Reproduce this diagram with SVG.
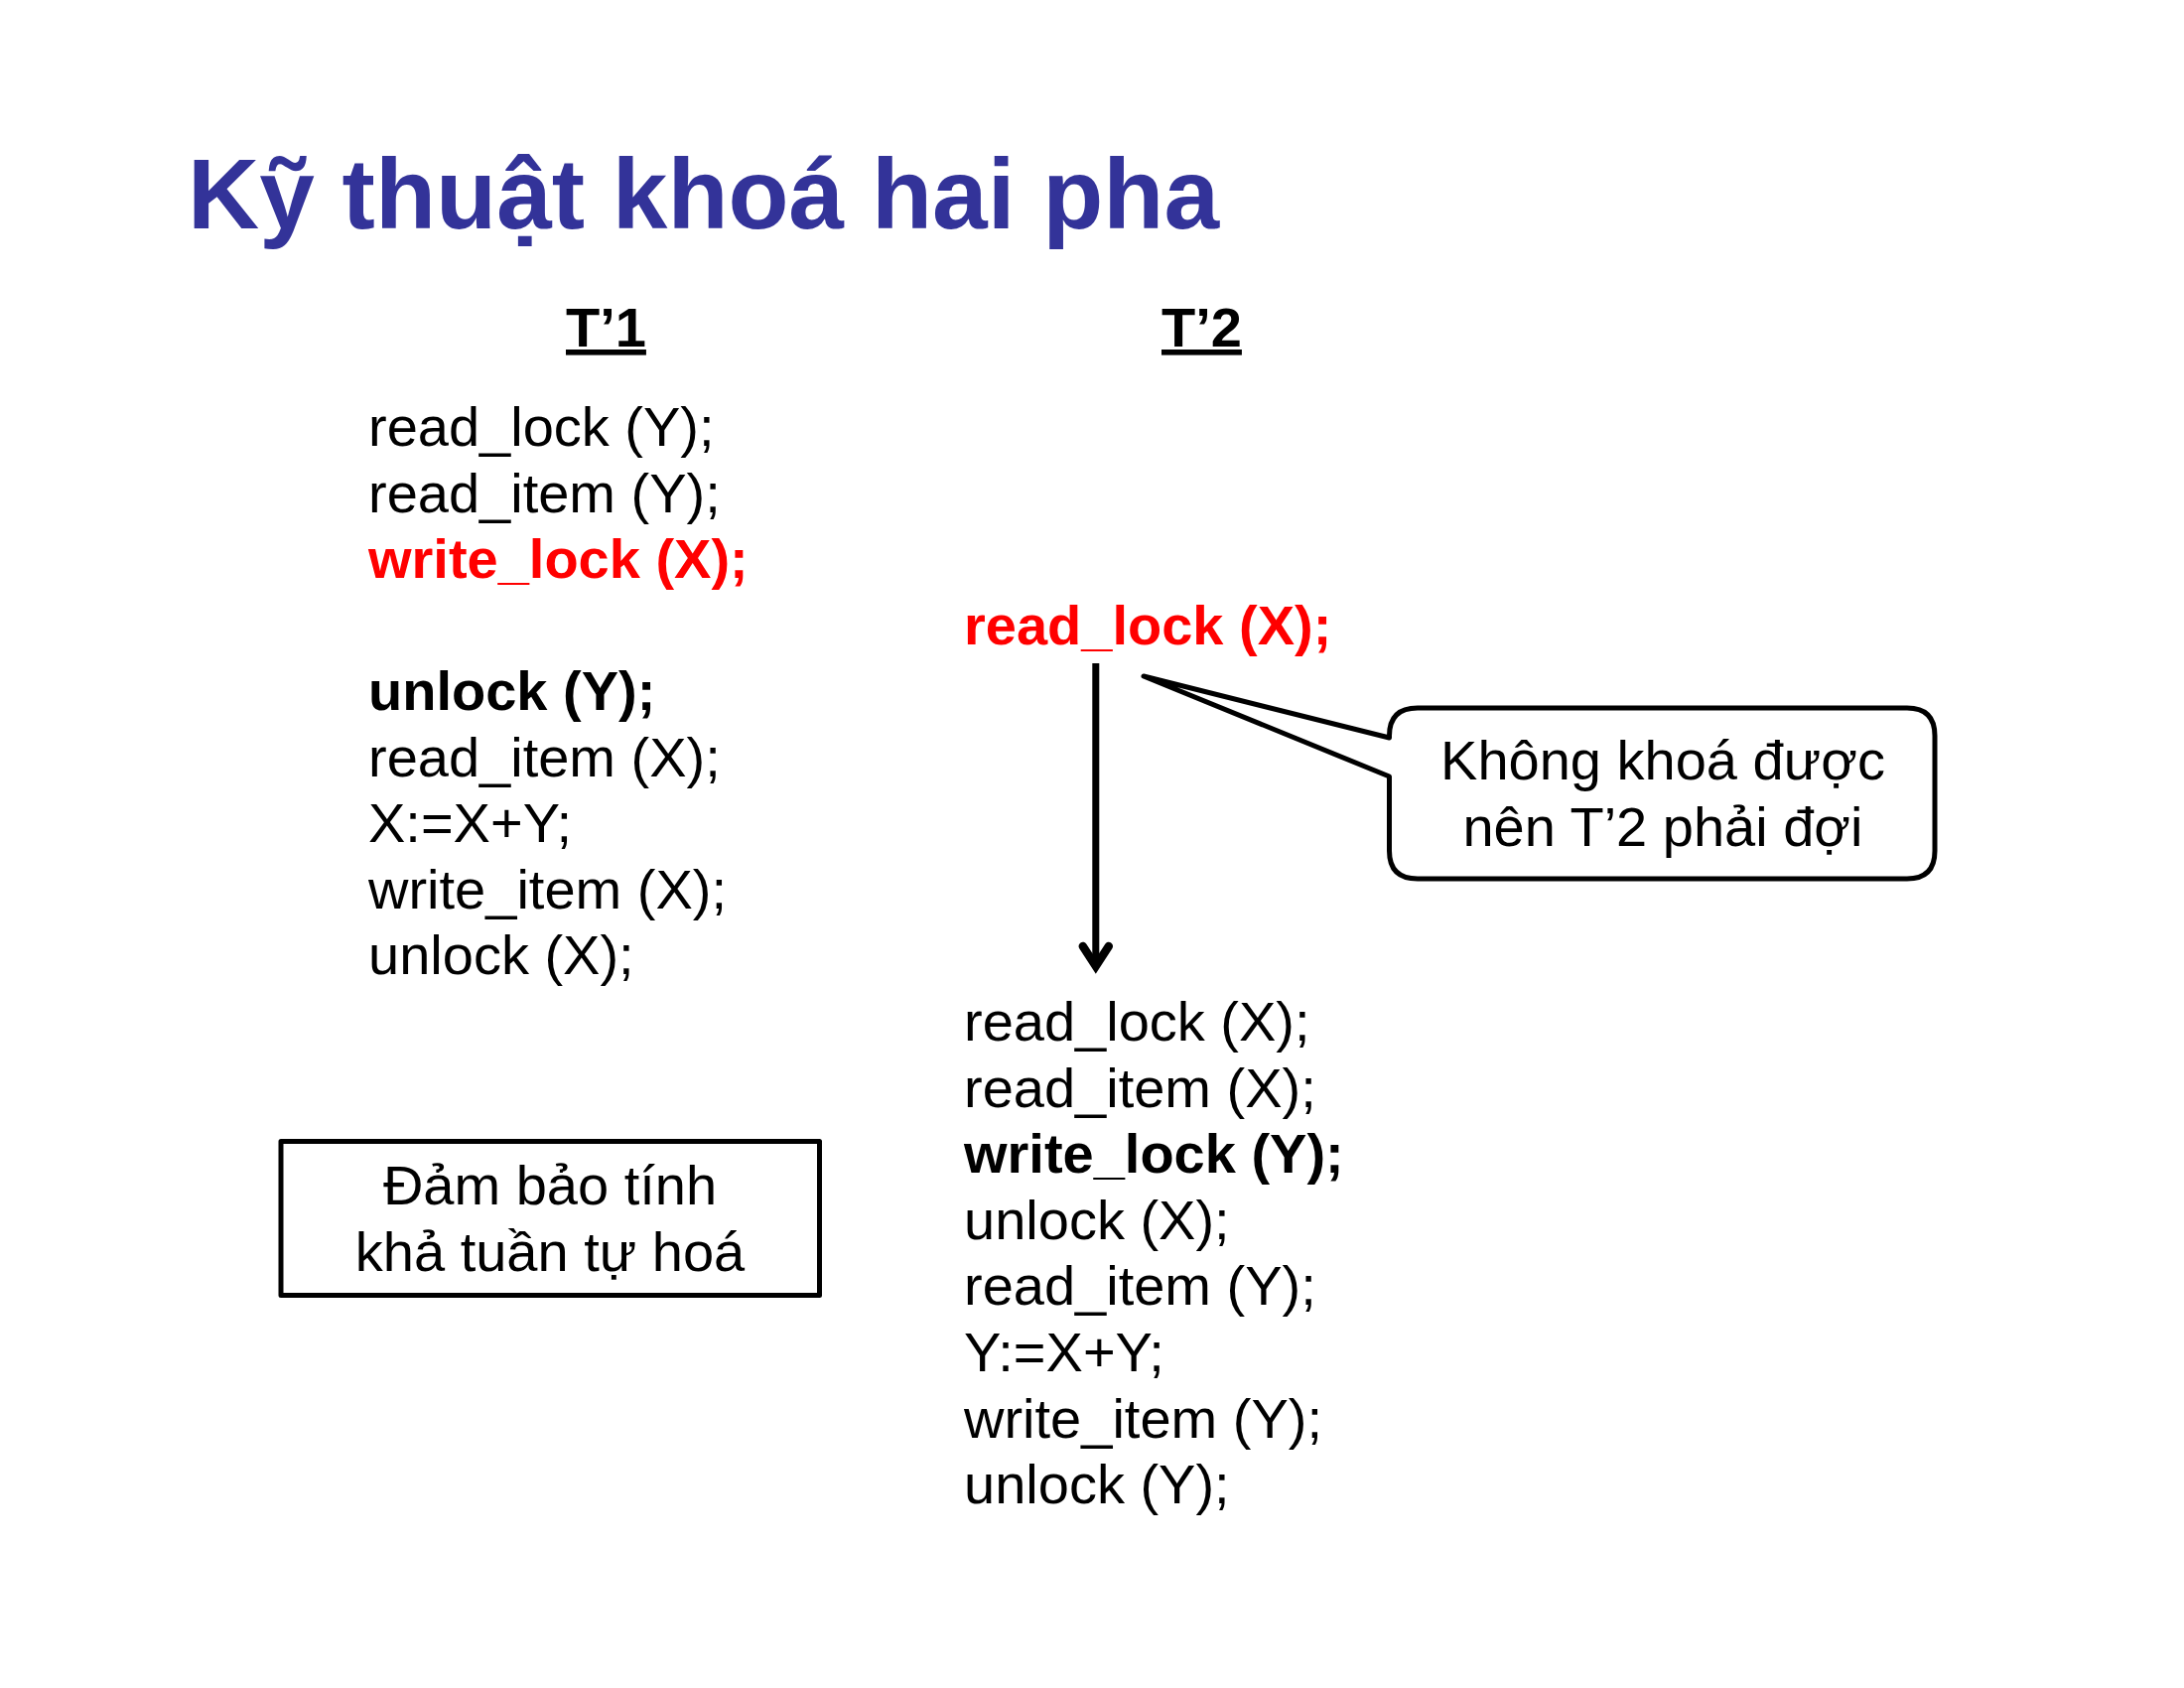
<svg xmlns="http://www.w3.org/2000/svg" width="2200" height="1700" viewBox="0 0 2200 1700">
  <style>
    text { font-family: "Liberation Sans", Arial, sans-serif; font-size: 56px; fill: #000; }
    .title { font-size: 100px; font-weight: bold; fill: #333399; }
    .head { font-weight: bold; text-decoration: underline; }
    .b { font-weight: bold; }
    .red { font-weight: bold; fill: #ff0000; }
    .mid { text-anchor: middle; }
    .frame { fill: #fff; stroke: #000; stroke-width: 5; stroke-linejoin: round; stroke-linecap: round; }
    .flow { fill: none; stroke: #000; stroke-width: 7; }
  </style>
  <defs>
    <marker id="vhead" markerUnits="userSpaceOnUse" viewBox="-30 -20 40 40" refX="0" refY="0" markerWidth="40" markerHeight="40" orient="auto" overflow="visible">
      <path d="M-20,-13 L0,0 L-20,13" fill="none" stroke="#000" stroke-width="8.5" stroke-linejoin="miter" stroke-miterlimit="10" stroke-linecap="round"/>
    </marker>
  </defs>

  <rect width="2200" height="1700" fill="#fff"/>

  <g id="title">
    <text class="title" x="189" y="230">Kỹ thuật khoá hai pha</text>
  </g>

  <g id="t1-header">
    <text class="head" x="570" y="349">T’1</text>
  </g>
  <g id="t2-header">
    <text class="head" x="1170" y="349">T’2</text>
  </g>

  <!-- transaction T'1 -->
  <g id="t1-steps">
    <text x="371" y="449">read_lock (Y);</text>
    <text x="371" y="515.5">read_item (Y);</text>
    <text class="red" x="371" y="582">write_lock (X);</text>
    <text class="b" x="371" y="715">unlock (Y);</text>
    <text x="371" y="781.5">read_item (X);</text>
    <text x="371" y="848">X:=X+Y;</text>
    <text x="371" y="914.5">write_item (X);</text>
    <text x="371" y="981">unlock (X);</text>
  </g>

  <!-- blocked lock request of T'2 -->
  <g id="t2-request">
    <text class="red" x="971" y="649">read_lock (X);</text>
  </g>

  <!-- transaction T'2 after waiting -->
  <g id="t2-steps">
    <text x="971" y="1048">read_lock (X);</text>
    <text x="971" y="1114.6">read_item (X);</text>
    <text class="b" x="971" y="1181.2">write_lock (Y);</text>
    <text x="971" y="1247.8">unlock (X);</text>
    <text x="971" y="1314.4">read_item (Y);</text>
    <text x="971" y="1381">Y:=X+Y;</text>
    <text x="971" y="1447.6">write_item (Y);</text>
    <text x="971" y="1514.2">unlock (Y);</text>
  </g>

  <!-- callout bubble -->
  <g id="wait-note">
    <path class="frame" d="M1152,681 L1399.5,743 L1399.5,741 Q1399.5,713 1428,713 L1921,713 Q1949,713 1949,741 L1949,857 Q1949,885 1921,885 L1428,885 Q1399.5,885 1399.5,857 L1399.5,782 Z"/>
    <text class="mid" x="1675" y="785">Không khoá được</text>
    <text class="mid" x="1675" y="851.7">nên T’2 phải đợi</text>
  </g>

  <!-- serializability note -->
  <g id="serial-note">
    <rect class="frame" x="283" y="1149.5" width="542.5" height="155" stroke-linejoin="miter"/>
    <text class="mid" x="554" y="1213.3">Đảm bảo tính</text>
    <text class="mid" x="554" y="1280">khả tuần tự hoá</text>
  </g>

  <g id="connectors">
    <line class="flow" x1="1103.8" y1="668" x2="1103.8" y2="973" marker-end="url(#vhead)"/>
  </g>
</svg>
